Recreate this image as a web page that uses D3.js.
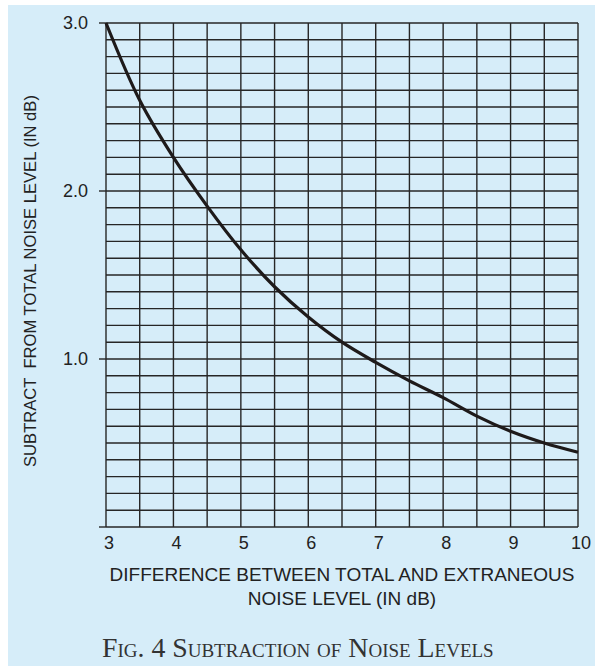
<!DOCTYPE html>
<html>
<head>
<meta charset="utf-8">
<script src="https://cdn.jsdelivr.net/npm/d3@7"></script>
<style>
  html, body { margin: 0; padding: 0; background: #fff; }
  svg { display: block; }
</style>
</head>
<body>
<svg width="599" height="666"></svg>
<script>
// Values
var diffDb = [3, 3.5, 4, 4.5, 5, 5.5, 6, 6.5, 7, 7.5, 8, 8.5, 9, 9.5, 10];
var subtractDb = [3.0, 2.54, 2.2, 1.91, 1.65, 1.43, 1.25, 1.10, 0.98, 0.87, 0.77, 0.66, 0.57, 0.50, 0.445];
var xTicks = [3, 4, 5, 6, 7, 8, 9, 10];
var yTicks = [1.0, 2.0, 3.0];

var svg = d3.select("svg");

var x = d3.scaleLinear().domain([3, 10]).range([106, 578]),
    y = d3.scaleLinear().domain([0, 3]).range([527, 23]);

var ink = "#262626";

// panel
svg.append("rect")
    .attr("x", 8).attr("y", 5)
    .attr("width", 587).attr("height", 661)
    .attr("fill", "#d6edf9");

var g = svg.append("g");

// horizontal grid every 0.1
g.selectAll(".hgrid")
    .data(d3.range(0, 31).map(function(i) { return i / 10; }))
    .enter().append("line")
    .attr("class", "hgrid")
    .attr("x1", x(3)).attr("x2", x(10))
    .attr("y1", function(d) { return y(d); })
    .attr("y2", function(d) { return y(d); })
    .attr("stroke", ink)
    .attr("stroke-width", 1.4);

// vertical grid every 0.5
g.selectAll(".vgrid")
    .data(d3.range(0, 15).map(function(i) { return 3 + i / 2; }))
    .enter().append("line")
    .attr("class", "vgrid")
    .attr("x1", function(d) { return x(d); })
    .attr("x2", function(d) { return x(d); })
    .attr("y1", y(3)).attr("y2", y(0))
    .attr("stroke", ink)
    .attr("stroke-width", 1.4);

// left ticks
g.selectAll(".ytick")
    .data([0].concat(yTicks))
    .enter().append("line")
    .attr("x1", x(3) - 7).attr("x2", x(3))
    .attr("y1", function(d) { return y(d); })
    .attr("y2", function(d) { return y(d); })
    .attr("stroke", ink)
    .attr("stroke-width", 1.4);

// labels
var labelFont = "'Liberation Sans', Arial, sans-serif";

g.selectAll(".ylab")
    .data(yTicks)
    .enter().append("text")
    .attr("x", 88)
    .attr("y", function(d) { return y(d); })
    .attr("dy", "0.36em")
    .attr("text-anchor", "end")
    .attr("font-family", labelFont)
    .attr("font-size", 18)
    .attr("fill", "#222")
    .text(function(d) { return d3.format(".1f")(d); });

g.selectAll(".xlab")
    .data(xTicks)
    .enter().append("text")
    .attr("x", function(d) { return x(d) + 3; })
    .attr("y", 549)
    .attr("text-anchor", "middle")
    .attr("font-family", labelFont)
    .attr("font-size", 18)
    .attr("fill", "#222")
    .text(function(d) { return d; });

// curve
var line = d3.line()
    .x(function(d, i) { return x(diffDb[i]); })
    .y(function(d) { return y(d); })
    .curve(d3.curveCatmullRom.alpha(0.5));

g.append("path")
    .attr("d", line(subtractDb))
    .attr("fill", "none")
    .attr("stroke", "#1e1a1a")
    .attr("stroke-width", 3.2);

// axis titles
var xt = g.append("text")
    .attr("text-anchor", "middle")
    .attr("font-family", labelFont)
    .attr("font-size", 19)
    .attr("fill", "#222");
xt.append("tspan").attr("x", 342).attr("y", 581).text("DIFFERENCE BETWEEN TOTAL AND EXTRANEOUS");
xt.append("tspan").attr("x", 342).attr("y", 605).text("NOISE LEVEL (IN dB)");

g.append("text")
    .attr("transform", "translate(36,281) rotate(-90)")
    .attr("text-anchor", "middle")
    .attr("font-family", labelFont)
    .attr("font-size", 16.6)
    .attr("fill", "#222")
    .style("white-space", "pre")
    .text("SUBTRACT  FROM TOTAL NOISE LEVEL (IN dB)");

// caption
g.append("text")
    .attr("x", 102)
    .attr("y", 657)
    .attr("font-family", "'Liberation Serif', 'Times New Roman', serif")
    .attr("font-size", 27.8)
    .attr("font-variant", "small-caps")
    .attr("fill", "#333")
    .text("Fig. 4 Subtraction of Noise Levels");
</script>
</body>
</html>
